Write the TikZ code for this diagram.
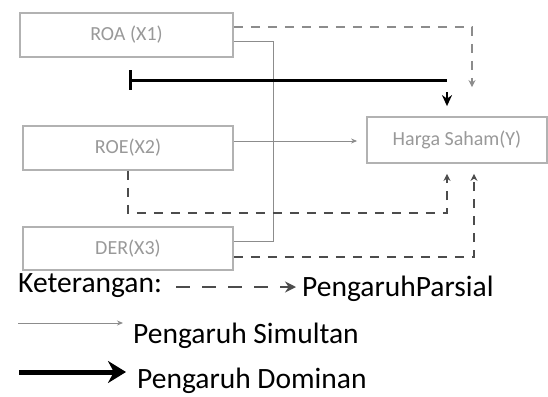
\documentclass[tikz,border=0pt]{standalone}
\usepackage{fontspec}
\setmainfont{Carlito}
\usetikzlibrary{arrows.meta}
\begin{document}
\begin{tikzpicture}[x=1pt,y=-1pt,
  box/.style={draw=black!30, line width=1.8pt, fill=white, inner sep=0pt,
    font=\fontsize{20}{22}\selectfont, text=black!40},
  simul/.style={draw=black!45, line width=0.9pt},
  simularrow/.style={simul, -{Stealth[length=6pt,width=5pt]}},
  dominan/.style={draw=black, line width=3pt},
  parsialdark/.style={draw=black!70, line width=1.3pt, dash pattern=on 9pt off 8pt},
  parsiallight/.style={draw=black!45, line width=1.3pt, dash pattern=on 9pt off 8pt},
  ptip/.style={-{Stealth[length=7pt,width=7pt]}},
  legend/.style={font=\fontsize{29.5}{31}\selectfont, anchor=base west, inner sep=0pt}]
\useasboundingbox (0,0) rectangle (548,396);
% boxes
\node[box, minimum width=213pt, minimum height=44pt] (b1) at (126.5,35) {ROA (X1)};
\node[box, minimum width=210pt, minimum height=44pt] (b2) at (128,148) {ROE(X2)};
\node[box, minimum width=210pt, minimum height=43pt] (b3) at (128,248.5) {DER(X3)};
\node[box, minimum width=180pt, minimum height=46pt] (by) at (457,140) {Harga Saham(Y)};
% simultaneous lines
\coordinate (j1) at (273,41);
\coordinate (j2) at (273,141);
\coordinate (j3) at (273,241);
\draw[simul] (b1.east |- j1) -- (j1) -- (j3) -- (b3.east |- j3);
\draw[simul] (b2.east |- j2) -- (j2);
\draw[simularrow, shorten >=9pt] (j2) -- (by.west |- j2);
% dominant
\coordinate (t1) at (130,80);
\coordinate (t2) at (447,80);
\draw[dominan] (130,70) -- (130,90);
\draw[dominan] (t1) -- (t2);
\coordinate (d1) at (447,92);
\draw[draw=black, line width=2.5pt, -{Stealth[length=11pt,width=10pt]}, shorten >=10pt] (d1) -- (by.north -| d1);
% partial 1
\coordinate (p1a) at (472,27);
\draw[parsiallight, ptip, shorten >=29pt] (b1.east |- p1a) -- (p1a) -- (by.north -| p1a);
% partial 2
\coordinate (p2a) at (128,213);
\coordinate (p2b) at (447,213);
\draw[parsialdark, ptip, shorten >=10pt] (b2.south -| p2a) -- (p2a) -- (p2b) -- (by.south -| p2b);
% partial 3
\coordinate (p3a) at (474,257);
\draw[parsialdark, ptip, shorten >=10pt] (b3.east |- p3a) -- (p3a) -- (by.south -| p3a);
% legend
\node[legend] (k) at (18,292) {Keterangan:};
\coordinate (l1a) at (176,287);
\coordinate (l1b) at (296,287);
\draw[draw=black!70, line width=1.5pt, dash pattern=on 14pt off 12pt, -{Stealth[length=11pt,width=11pt]}] (l1a) -- (l1b);
\node[legend] (lp) at (302,296) {PengaruhParsial};
\coordinate (l2a) at (18,323);
\coordinate (l2b) at (123,323);
\draw[simularrow] (l2a) -- (l2b);
\node[legend] (ls) at (133,343) {Pengaruh Simultan};
\coordinate (l3a) at (19,372);
\coordinate (l3b) at (126,372);
\draw[draw=black, line width=5pt, -{Stealth[length=18pt,width=22pt]}] (l3a) -- (l3b);
\node[legend] (ld) at (137,388) {Pengaruh Dominan};
\end{tikzpicture}
\end{document}
